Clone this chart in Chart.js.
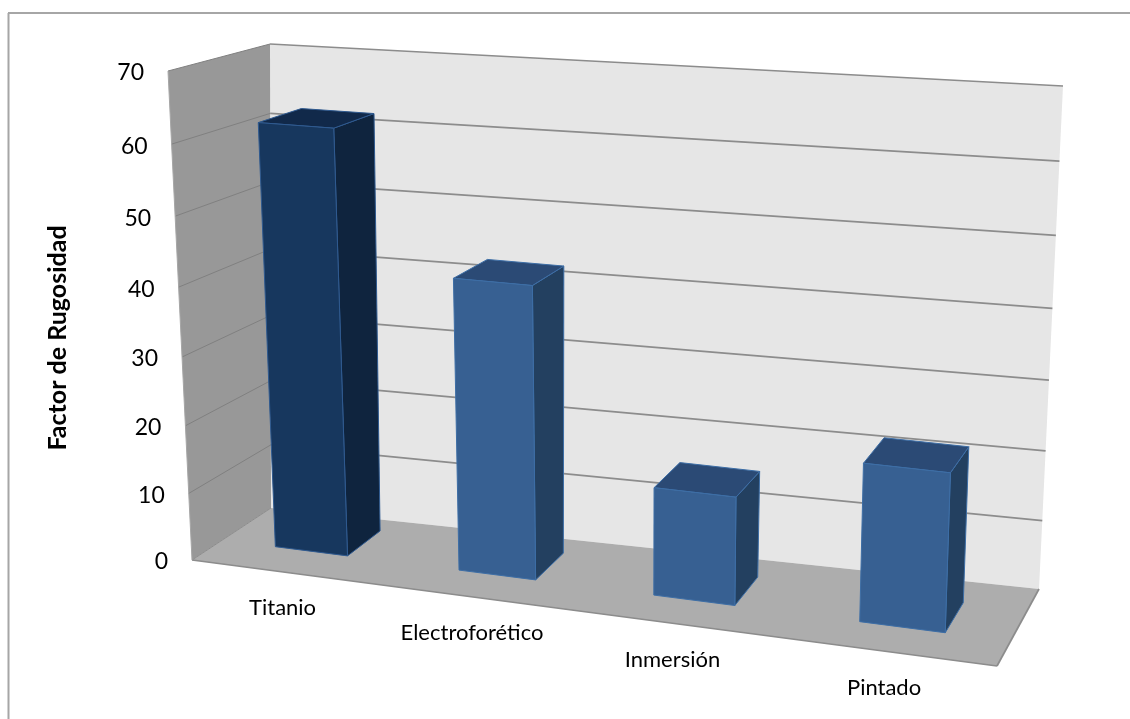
<!DOCTYPE html>
<html>
<head>
<meta charset="utf-8">
<title>Factor de Rugosidad</title>
<script src="https://cdn.jsdelivr.net/npm/chart.js@4/dist/chart.umd.min.js"></script>
<style>
  html, body { margin: 0; padding: 0; background: #fff; }
  canvas { display: block; }
</style>
</head>
<body>
<canvas id="rugosidadChart" width="1130" height="719"></canvas>
<script>
const categories = ['Titanio', 'Electroforético', 'Inmersión', 'Pintado']
const rugosidad = [62.2, 42.6, 15.7, 22.5]
const yMax = 70
const yStep = 10

const frontColors = ['#17375e', '#376092', '#376092', '#376092']
const sideColors = ['#0f243e', '#234060', '#234060', '#234060']
const topColors = ['#11294a', '#2b4a75', '#2b4a75', '#2b4a75']
const edgeColors = ['#2f5a90', '#3d6ea6', '#3d6ea6', '#3d6ea6']

// Screen corners of the 3D box the chart sits in
const corner = {
  frontBottomLeft: [192, 560],
  frontBottomRight: [997, 666],
  backBottomRight: [1039, 589],
  backBottomLeft: [271, 508],
  frontTopLeft: [168, 71],
  frontTopRight: [1020, 130],
  backTopRight: [1063, 86],
  backTopLeft: [270, 44]
}

const lerp = (a, b, t) => [a[0] + (b[0] - a[0]) * t, a[1] + (b[1] - a[1]) * t]

// Foreshortening along the category and value directions
const warpU = u => u - 0.11 * u * (1 - u)
const warpV = v => v - 0.055 * v * (1 - v)

// Where a bar starts and ends in depth, it shifts a little going right and up
const barDepthFront = (u, v) => 0.385 - 0.063 * warpU(u) - 0.07 * v
const barDepthBack = (u, v) => 0.84 - 0.122 * warpU(u) - 0.07 * v

// u across the categories, v up the value axis, d into the depth, all 0..1
function project(u, v, d) {
  const r = warpU(u)
  const lo = lerp(lerp(corner.frontBottomLeft, corner.frontBottomRight, r), lerp(corner.backBottomLeft, corner.backBottomRight, r), d)
  const hi = lerp(lerp(corner.frontTopLeft, corner.frontTopRight, r), lerp(corner.backTopLeft, corner.backTopRight, r), d)
  return lerp(lo, hi, warpV(v))
}

function fillQuad(ctx, pts, fill, stroke, lineWidth) {
  ctx.beginPath()
  pts.forEach((p, i) => i ? ctx.lineTo(p[0], p[1]) : ctx.moveTo(p[0], p[1]))
  ctx.closePath()
  ctx.fillStyle = fill
  ctx.fill()
  if (stroke) {
    ctx.strokeStyle = stroke
    ctx.lineWidth = lineWidth
    ctx.lineJoin = 'round'
    ctx.stroke()
  }
}

function strokeLine(ctx, a, b, color, lineWidth) {
  ctx.beginPath()
  ctx.moveTo(a[0], a[1])
  ctx.lineTo(b[0], b[1])
  ctx.strokeStyle = color
  ctx.lineWidth = lineWidth
  ctx.stroke()
}

// Bar controller that draws each bar as a box, positions come from the scales
class Bar3dController extends Chart.BarController {
  draw() {
    const area = this.chart.chartArea
    const ds = this.getDataset()
    const ctx = this.chart.ctx
    this.getMeta().data.forEach((bar, i) => {
      const u0 = (bar.x - bar.width / 2 - area.left) / area.width
      const u1 = (bar.x + bar.width / 2 - area.left) / area.width
      const v = (area.bottom - bar.y) / area.height
      const f0 = project(u0, 0, barDepthFront(u0, 0)), f1 = project(u1, 0, barDepthFront(u1, 0))
      const b1 = project(u1, 0, barDepthBack(u1, 0))
      const tf0 = project(u0, v, barDepthFront(u0, v)), tf1 = project(u1, v, barDepthFront(u1, v))
      const tb0 = project(u0, v, barDepthBack(u0, v)), tb1 = project(u1, v, barDepthBack(u1, v))
      const edge = ds.edgeColor[i]
      fillQuad(ctx, [f1, b1, tb1, tf1], ds.sideColor[i], edge, 1)
      fillQuad(ctx, [tf0, tf1, tb1, tb0], ds.topColor[i], edge, 1)
      fillQuad(ctx, [f0, f1, tf1, tf0], ds.backgroundColor[i], edge, 1)
    })
  }
}
Bar3dController.id = 'bar3d'
Bar3dController.defaults = Chart.BarController.defaults
Bar3dController.overrides = Chart.BarController.overrides
Chart.register(Bar3dController)

const boxPlugin = {
  id: 'box3d',
  beforeDatasetsDraw(chart) {
    const ctx = chart.ctx
    const y = chart.scales.y
    const area = chart.chartArea

    // outer frame, only top and left show
    strokeLine(ctx, [8.5, 13], [8.5, 719], '#a6a6a6', 2)
    strokeLine(ctx, [8, 13], [1130, 13], '#a6a6a6', 2)

    fillQuad(ctx, [project(0, 0, 1), project(1, 0, 1), project(1, 1, 1), project(0, 1, 1)], '#e6e6e6')
    fillQuad(ctx, [project(0, 0, 0), project(0, 0, 1), project(0, 1, 1), project(0, 1, 0)], '#989898')
    fillQuad(ctx, [project(0, 0, 0), project(1, 0, 0), project(1, 0, 1), project(0, 0, 1)], '#adadad')

    y.ticks.forEach(t => {
      const v = (area.bottom - y.getPixelForValue(t.value)) / area.height
      if (v === 0) return
      strokeLine(ctx, project(0, v, 0), project(0, v, 1), '#808080', 1)
      strokeLine(ctx, project(0, v, 1), project(1, v, 1), '#8c8c8c', 1.75)
    })

    strokeLine(ctx, project(0, 0, 0), project(1, 0, 0), '#8c8c8c', 1.75)
    strokeLine(ctx, project(1, 0, 0), project(1, 0, 1), '#8c8c8c', 1.75)
    strokeLine(ctx, project(0, 0, 0), project(0, 0, 1), '#8c8c8c', 1)
    strokeLine(ctx, project(0, 0, 0), project(0, 1, 0), '#a6a6a6', 1)
  },
  afterDatasetsDraw(chart) {
    const ctx = chart.ctx
    const x = chart.scales.x
    const y = chart.scales.y
    const area = chart.chartArea
    ctx.fillStyle = '#000'
    ctx.textBaseline = 'middle'

    ctx.font = '23px Lato'
    ctx.textAlign = 'right'
    y.ticks.forEach(t => {
      const v = (area.bottom - y.getPixelForValue(t.value)) / area.height
      const p = project(0, v, 0)
      ctx.fillText(t.label, p[0] - 24, p[1] + 2)
    })

    ctx.font = '22px Lato'
    ctx.textAlign = 'center'
    categories.forEach((c, i) => {
      const u = (x.getPixelForValue(i) - area.left) / area.width
      const p = project(u, 0, 0)
      ctx.fillText(c, p[0] - 3 * u, p[1] + 36)
    })
  }
}

new Chart(document.getElementById('rugosidadChart'), {
  type: 'bar3d',
  data: {
    labels: categories,
    datasets: [{
      data: rugosidad,
      backgroundColor: frontColors,
      sideColor: sideColors,
      topColor: topColors,
      edgeColor: edgeColors,
      barPercentage: 0.4,
      categoryPercentage: 1
    }]
  },
  options: {
    responsive: false,
    animation: false,
    layout: { padding: { left: 39, top: 0, right: 10, bottom: 43 } },
    plugins: { legend: { display: false }, tooltip: { enabled: false } },
    scales: {
      x: { type: 'category', display: false },
      y: {
        type: 'linear',
        min: 0,
        max: yMax,
        ticks: { display: false, stepSize: yStep },
        grid: { display: false },
        border: { display: false },
        title: { display: true, text: 'Factor de Rugosidad', color: '#000', font: { family: 'Lato', size: 25, weight: 'bold' } }
      }
    }
  },
  plugins: [boxPlugin]
})
</script>
</body>
</html>
